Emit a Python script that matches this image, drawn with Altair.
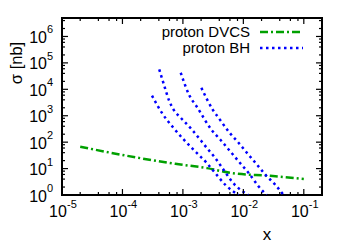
import altair as alt
import pandas as pd

# ---- data ----
dvcs_x = [2.0e-5, 1.97e-4, 7.5e-4, 2.5e-3, 6.5e-3, 2.8e-2, 1.0e-1]
dvcs_y = [67, 24.8, 15.1, 10.4, 6.7, 5.3, 4.05]

bh1_x = [3.08e-4, 4.5e-4, 7.0e-4, 1.5e-3, 2.5e-3, 3.44e-3, 5.05e-3, 8.3e-3]
bh1_y = [5800, 1276, 344, 51.4, 16.0, 6.7, 2.4, 1.0]

bh2_x = [4.06e-4, 4.79e-4, 6.0e-4, 7.0e-4, 9.3e-4, 1.38e-3, 2.5e-3, 3.44e-3, 4.73e-3, 6.5e-3, 1.2e-2]
bh2_y = [56600, 16600, 3440, 1710, 824, 315, 59.7, 24.8, 8.9, 3.2, 1.0]

bh3_x = [9.2e-4, 1.26e-3, 1.75e-3, 2.96e-3, 4.17e-3, 6.1e-3, 8.4e-3, 1.23e-2, 1.8e-2, 2.42e-2]
bh3_y = [42400, 6340, 1980, 296, 123, 44.3, 18.5, 6.7, 2.07, 1.0]

bh4_x = [2.02e-3, 3.11e-3, 3.91e-3, 5.83e-3, 8.4e-3, 1.156e-2, 1.694e-2, 2.33e-2, 3.4e-2, 4.62e-2]
bh4_y = [11400, 1710, 824, 238, 92.5, 38.5, 13.8, 5.75, 2.4, 1.0]

series_names = ["proton DVCS", "proton BH"]

x_major = [1e-5, 1e-4, 1e-3, 1e-2, 1e-1]
x_major_exp = ["-5", "-4", "-3", "-2", "-1"]
y_major = [1, 10, 100, 1e3, 1e4, 1e5, 1e6]
y_major_exp = ["0", "1", "2", "3", "4", "5", "6"]
minor_mult = [2, 4, 6, 8]
x_minor = [m * d for d in [1e-5, 1e-4, 1e-3, 1e-2] for m in minor_mult]
y_minor = [m * d for d in y_major for m in minor_mult if m * d < 5e6]

# ---- styling ----
W, H = 260, 177
FONT = "Liberation Sans"
GREEN = "#00a000"
BLUE = "#0000ff"
xs = alt.Scale(type="log", domain=[1e-5, 0.2])
ys = alt.Scale(type="log", domain=[1, 5e6])
X = lambda f="x": alt.X(f"{f}:Q", scale=xs, axis=None)
Y = lambda f="y": alt.Y(f"{f}:Q", scale=ys, axis=None)

df_dvcs = pd.DataFrame({"x": dvcs_x, "y": dvcs_y})
bh_rows = []
for i, (xv, yv) in enumerate([(bh1_x, bh1_y), (bh2_x, bh2_y), (bh3_x, bh3_y), (bh4_x, bh4_y)]):
    for a, b in zip(xv, yv):
        bh_rows.append({"curve": i, "x": a, "y": b})
df_bh = pd.DataFrame(bh_rows)

dvcs = alt.Chart(df_dvcs).mark_line(
    color=GREEN, strokeWidth=2.5, strokeDash=[8, 3, 2, 3], clip=True, interpolate="monotone"
).encode(x=X(), y=Y())

bh = alt.Chart(df_bh).mark_line(
    color=BLUE, strokeWidth=2.5, strokeDash=[2.5, 3.5], clip=True, interpolate="monotone"
).encode(x=X(), y=Y(), detail="curve:N")

# ---- ticks (inward, mirrored) ----
def xticks(vals, length):
    d = pd.DataFrame({"x": vals})
    b = alt.Chart(d).mark_rule(color="black", strokeWidth=1.2).encode(
        x=X(), y=alt.value(H), y2=alt.value(H - length))
    t = alt.Chart(d).mark_rule(color="black", strokeWidth=1.2).encode(
        x=X(), y=alt.value(0), y2=alt.value(length))
    return [b, t]

def yticks(vals, length):
    d = pd.DataFrame({"y": vals})
    l = alt.Chart(d).mark_rule(color="black", strokeWidth=1.2).encode(
        y=Y(), x=alt.value(0), x2=alt.value(length))
    r = alt.Chart(d).mark_rule(color="black", strokeWidth=1.2).encode(
        y=Y(), x=alt.value(W), x2=alt.value(W - length))
    return [l, r]

ticks = xticks(x_major, 6) + xticks(x_minor, 3) + yticks(y_major, 6) + yticks(y_minor, 3)

# ---- tick labels ----
dxl = pd.DataFrame({"x": x_major, "e": x_major_exp})
xl_base = alt.Chart(dxl).mark_text(text="10", font=FONT, fontSize=16, align="center",
                                   baseline="middle", dx=-4).encode(x=X(), y=alt.value(H + 17))
xl_exp = alt.Chart(dxl).mark_text(font=FONT, fontSize=11, align="left",
                                  baseline="middle", dx=5).encode(x=X(), y=alt.value(H + 10), text="e:N")

dyl = pd.DataFrame({"y": y_major, "e": y_major_exp})
yl_base = alt.Chart(dyl).mark_text(text="10", font=FONT, fontSize=16, align="right",
                                   baseline="middle", dy=1.5).encode(y=Y(), x=alt.value(-15))
yl_exp = alt.Chart(dyl).mark_text(font=FONT, fontSize=11, align="left",
                                  baseline="middle", dy=-6).encode(y=Y(), x=alt.value(-15), text="e:N")

# ---- axis titles ----
ytitle = alt.Chart(pd.DataFrame({"t": ["σ [nb]"]})).mark_text(
    font=FONT, fontSize=16.5, angle=270, align="center", baseline="middle"
).encode(text="t:N", x=alt.value(-45), y=alt.value(45))
xtitle = alt.Chart(pd.DataFrame({"t": ["x"]})).mark_text(
    font=FONT, fontSize=17, align="center", baseline="middle"
).encode(text="t:N", x=alt.value(205), y=alt.value(217))

# ---- legend ----
leg = []
for name, col, dash, yy in [(series_names[0], GREEN, [8, 3, 2, 3], 14),
                            (series_names[1], BLUE, [2.5, 3.5], 30)]:
    d = pd.DataFrame({"t": [name]})
    leg.append(alt.Chart(d).mark_text(font=FONT, fontSize=15, align="right", baseline="middle").encode(
        text="t:N", x=alt.value(188), y=alt.value(yy)))
    leg.append(alt.Chart(d).mark_rule(color=col, strokeWidth=2.5, strokeDash=dash).encode(
        x=alt.value(198), x2=alt.value(241), y=alt.value(yy)))

chart = alt.layer(
    dvcs, bh, *ticks, xl_base, xl_exp, yl_base, yl_exp, ytitle, xtitle, *leg
).properties(
    width=W, height=H,
    autosize=alt.AutoSizeParams(type="none"),
    padding={"left": 54, "top": 10, "right": 20, "bottom": 52},
).configure_view(stroke="black", strokeWidth=2)

chart.save("out.html", embed_options={"renderer": "svg", "actions": False})
